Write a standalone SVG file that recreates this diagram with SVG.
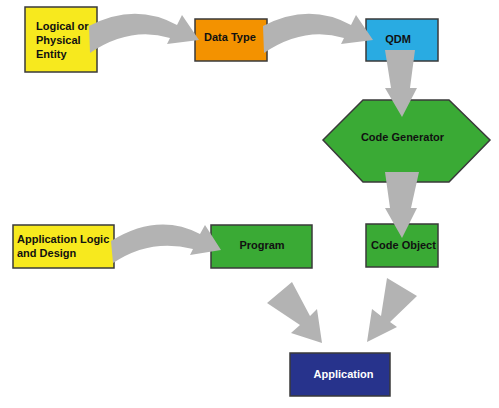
<svg xmlns="http://www.w3.org/2000/svg" width="499" height="408" viewBox="0 0 499 408">
<style>
.box{stroke:#3a3a3a;stroke-width:1.5}
.t{font-family:"Liberation Sans",Arial,sans-serif;font-weight:bold;font-size:11px;fill:#111}
.arr{fill:#b3b3b3;stroke:none}
</style>
<rect width="499" height="408" fill="#ffffff"/>
<g id="entity"><rect class="box" x="25" y="7" width="72" height="65" fill="#f7e91e"/>
<text class="t" x="36" y="29.5">Logical or</text><text class="t" x="36" y="43.5">Physical</text><text class="t" x="36" y="57.5">Entity</text></g>
<g id="datatype"><rect class="box" x="195" y="19" width="72" height="42" fill="#f39200"/>
<text class="t" x="204" y="41">Data Type</text></g>
<g id="qdm"><rect class="box" x="366" y="19" width="72" height="42" fill="#29abe2"/>
<text class="t" x="398" y="43" text-anchor="middle">QDM</text></g>
<g id="codegen"><polygon class="box" points="323,140 363,100 449,100 490,140 449,182 363,182" fill="#3aaa35"/>
<text class="t" x="402.5" y="140.5" text-anchor="middle">Code Generator</text></g>
<g id="applogic"><rect class="box" x="13" y="225" width="101" height="43" fill="#f7e91e"/>
<text class="t" x="17" y="243">Application Logic</text><text class="t" x="17" y="257">and Design</text></g>
<g id="program"><rect class="box" x="211" y="225" width="101" height="43" fill="#3aaa35"/>
<text class="t" x="262" y="249" text-anchor="middle">Program</text></g>
<g id="codeobject"><rect class="box" x="366" y="224" width="72" height="43" fill="#3aaa35"/>
<text class="t" x="403.5" y="249" text-anchor="middle">Code Object</text></g>
<g id="application"><rect class="box" x="290" y="353" width="100" height="43" fill="#27338c"/>
<text class="t" x="343.5" y="378" text-anchor="middle" style="fill:#ffffff">Application</text></g>
<g id="connectors">
<path class="arr" d="M89,26 Q135,2 177,25 L182,15 L199,40 L167,44 L170,38 Q130,26 90,53 Z"/>
<path class="arr" d="M263,26 Q309,2 351,25 L356,15 L373,40 L341,44 L344,38 Q304,26 264,53 Z"/>
<path class="arr" d="M385,50 L415,50 L410,88 L417,88 L402,117 L385,88 L391,88 Z"/>
<path class="arr" d="M385,172 L419,172 L411,208 L417,208 L402,238 L385,208 L390,208 Z"/>
<path class="arr" d="M111,241 Q158,212 200,234 L205,225 L221,250 L190,255 L193,249 Q150,238 113,263 Z"/>
<path class="arr" d="M267,303 L292,282 L310,316 L317,309 L322,343 L291,333 L300,325 Z"/>
<path class="arr" d="M387,278 L417,296 L390,322 L397,327 L367,342 L372,309 L381,316 Z"/>
</g>
</svg>
